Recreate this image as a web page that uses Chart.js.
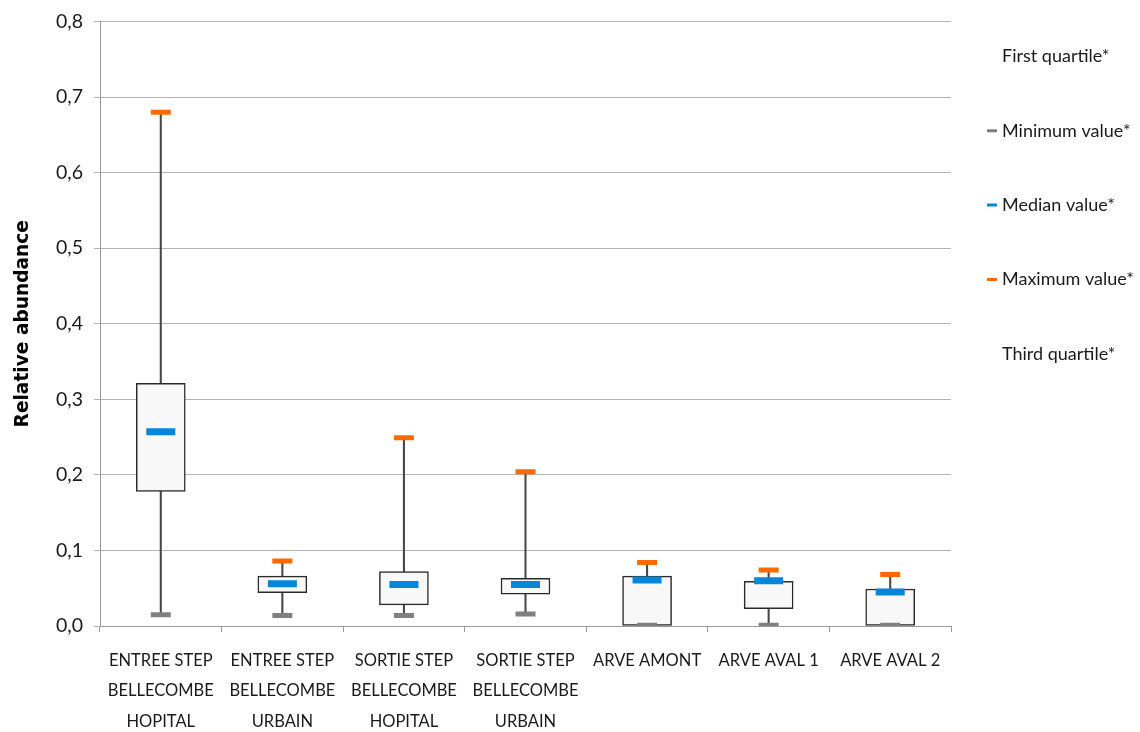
<!DOCTYPE html>
<html>
<head>
<meta charset="utf-8">
<script src="https://cdn.jsdelivr.net/npm/chart.js@4.4.0/dist/chart.umd.min.js"></script>
<style>
  html, body { margin: 0; padding: 0; background: #ffffff; }
  #wrap { width: 1140px; height: 732px; position: relative; }
</style>
</head>
<body>
<div id="wrap"><canvas id="chart"></canvas></div>
<script>
// ---- data ----
const categories = [
  ['ENTREE STEP', 'BELLECOMBE', 'HOPITAL'],
  ['ENTREE STEP', 'BELLECOMBE', 'URBAIN'],
  ['SORTIE STEP', 'BELLECOMBE', 'HOPITAL'],
  ['SORTIE STEP', 'BELLECOMBE', 'URBAIN'],
  'ARVE AMONT',
  'ARVE AVAL 1',
  'ARVE AVAL 2'
];
const minValues    = [0.015, 0.014, 0.014, 0.016, 0.001, 0.001, 0.001];
const q1Values     = [0.178, 0.044, 0.028, 0.042, 0.000, 0.023, 0.000];
const medianValues = [0.257, 0.056, 0.055, 0.055, 0.061, 0.060, 0.045];
const q3Values     = [0.321, 0.066, 0.072, 0.063, 0.066, 0.059, 0.049];
const maxValues    = [0.680, 0.086, 0.249, 0.204, 0.084, 0.074, 0.068];
const yTickLabels  = ['0,0', '0,1', '0,2', '0,3', '0,4', '0,5', '0,6', '0,7', '0,8'];
const legendLabels = ['First quartile*', 'Minimum value*', 'Median value*', 'Maximum value*', 'Third quartile*'];
const axisTitle    = 'Relative abundance';

// ---- styles ----
const C_MIN = '#808080', C_MED = '#0785D8', C_MAX = '#FF6A00';
const legendColors = ['rgba(0,0,0,0)', C_MIN, C_MED, C_MAX, 'rgba(0,0,0,0)'];
const FONT = "Lato, 'Liberation Sans', sans-serif";

const whiskerData = minValues.map((v, i) => [v, maxValues[i]]);
const boxData = q1Values.map((v, i) => [v, q3Values[i]]);

new Chart(document.getElementById('chart'), {
  type: 'bar',
  data: {
    labels: categories,
    datasets: [
      { type: 'line', label: legendLabels[3], data: maxValues, showLine: false,
        pointStyle: 'line', pointRadius: 10, pointHoverRadius: 10,
        pointBorderWidth: 5, pointBorderColor: C_MAX, borderColor: C_MAX, order: 0 },
      { type: 'line', label: legendLabels[2], data: medianValues, showLine: false,
        pointStyle: 'line', pointRadius: 14.5, pointHoverRadius: 14.5,
        pointBorderWidth: 7, pointBorderColor: C_MED, borderColor: C_MED, order: 0 },
      { type: 'line', label: legendLabels[1], data: minValues, showLine: false,
        pointStyle: 'line', pointRadius: 10, pointHoverRadius: 10,
        pointBorderWidth: 5, pointBorderColor: C_MIN, borderColor: C_MIN, order: 0 },
      { type: 'bar', label: 'box', data: boxData, grouped: false,
        barThickness: 49, backgroundColor: '#F8F8F8', borderColor: '#2a2a2a',
        borderWidth: 1.5, borderSkipped: false, order: 1 },
      { type: 'bar', label: 'whisker', data: whiskerData, grouped: false,
        barThickness: 1.4, backgroundColor: '#474747', borderWidth: 0, order: 2 }
    ]
  },
  options: {
    responsive: true,
    maintainAspectRatio: false,
    animation: false,
    layout: { padding: { top: 7.5, left: 0, right: 0, bottom: 0 } },
    plugins: {
      tooltip: { enabled: false },
      title: { display: false },
      legend: {
        position: 'right',
        align: 'start',
        maxWidth: 189,
        labels: {
          usePointStyle: true,
          boxWidth: 2,
          boxHeight: 7.07,
          padding: 40,
          color: '#1a1a1a',
          font: { family: FONT, size: 18, lineHeight: 34.3 / 18 },
          generateLabels: () => legendLabels.map((t, i) => ({
            text: [t],
            fillStyle: legendColors[i],
            strokeStyle: legendColors[i],
            lineWidth: 3,
            pointStyle: 'line',
            hidden: false,
            fontColor: '#1a1a1a',
            datasetIndex: i
          }))
        }
      }
    },
    scales: {
      x: {
        offset: true,
        grid: { display: true, drawOnChartArea: false, drawTicks: true, tickLength: 6,
                color: '#9a9a9a', offset: true },
        border: { display: true, color: '#9a9a9a', width: 1 },
        ticks: { autoSkip: false, maxRotation: 0, minRotation: 0, padding: 13,
                 color: '#1a1a1a', font: { family: FONT, size: 16.5, lineHeight: 30.5 / 16.5 } },
        afterFit: (s) => { s.height = 106; }
      },
      y: {
        min: 0, max: 0.8,
        grid: { color: '#b3b3b3', lineWidth: 1, tickLength: 6, drawTicks: true },
        border: { display: true, color: '#9a9a9a', width: 1 },
        ticks: { stepSize: 0.1, padding: 11, color: '#1a1a1a',
                 font: { family: FONT, size: 19.5, lineHeight: 0.6 },
                 callback: (v, i) => yTickLabels[i] },
        title: { display: true, text: axisTitle, color: '#000',
                 font: { family: "'DejaVu Sans', sans-serif", weight: 'bold', size: 18.6 },
                 padding: { top: 12, bottom: 0 } },
        afterFit: (s) => { s.width = 100; }
      }
    }
  }
});
</script>
</body>
</html>
